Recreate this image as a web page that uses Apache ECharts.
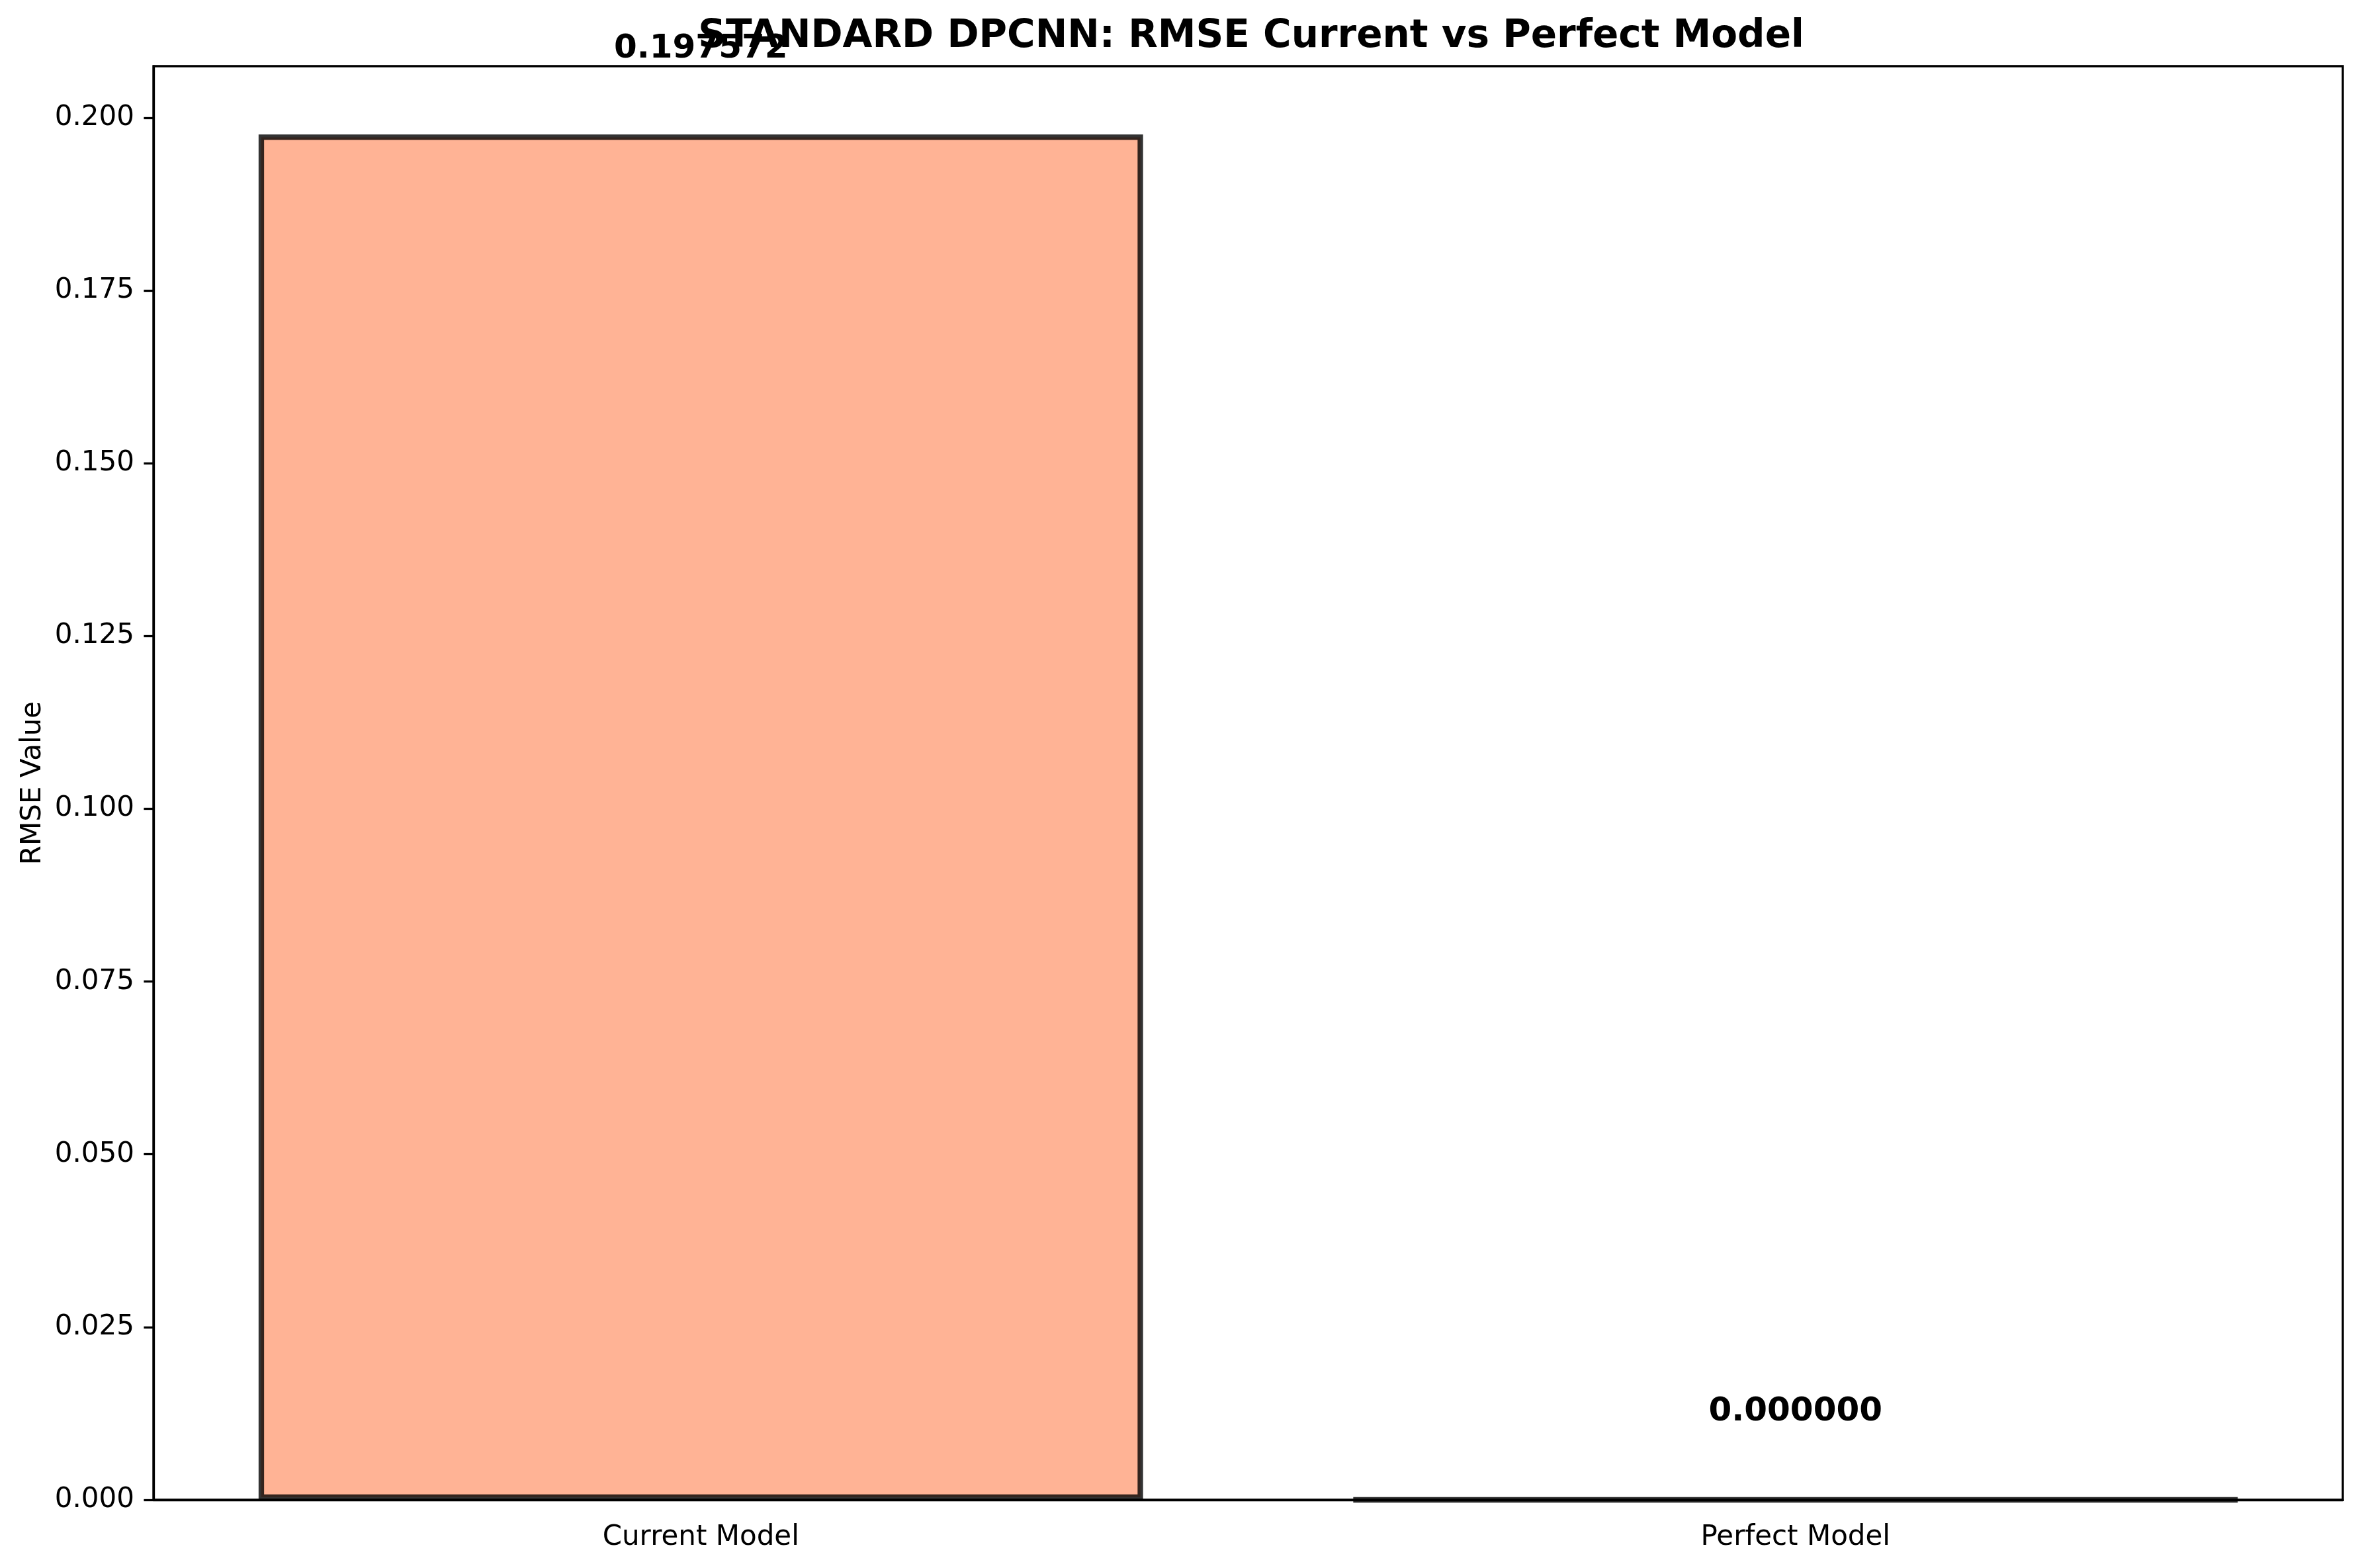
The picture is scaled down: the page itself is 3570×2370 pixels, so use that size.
<!DOCTYPE html>
<html>
<head>
<meta charset="utf-8">
<title>STANDARD DPCNN: RMSE Current vs Perfect Model</title>
<script src="https://cdn.jsdelivr.net/npm/echarts@6/dist/echarts.min.js"></script>
<style>
    html, body { margin: 0; padding: 0; background: #fff; }
    #main { width: 3570px; height: 2370px; }
</style>
</head>
<body>
<div id="main"></div>
<script>
// data
var categories = ['Current Model', 'Perfect Model'];
var rmseValues = [0.197572, 0.000000];
var yTicks = [0, 0.025, 0.05, 0.075, 0.1, 0.125, 0.15, 0.175, 0.2];
var yMax = 0.20746;

var font = 'DejaVu Sans';
var myChart = echarts.init(document.getElementById('main'));

var option = {
    backgroundColor: '#fff',
    animation: false,
    title: {
        text: 'STANDARD DPCNN: RMSE Current vs Perfect Model',
        left: 1886,
        top: 22,
        textAlign: 'center',
        textStyle: { fontFamily: font, fontSize: 58, fontWeight: 'bold', color: '#000' }
    },
    grid: {
        left: 232, right: 29, top: 100, bottom: 103,
        show: true, borderColor: '#000', borderWidth: 3.3, backgroundColor: 'transparent'
    },
    xAxis: {
        type: 'category',
        data: categories,
        axisLine: { lineStyle: { color: '#000', width: 3.3 } },
        axisTick: { alignWithLabel: true, length: 14.6, lineStyle: { color: '#000', width: 3.3 } },
        axisLabel: { margin: 36, fontFamily: font, fontSize: 42, color: '#000' }
    },
    yAxis: {
        type: 'value',
        min: 0,
        max: yMax,
        name: 'RMSE Value',
        nameLocation: 'middle',
        nameGap: 161,
        nameTextStyle: { fontFamily: font, fontSize: 42, color: '#000' },
        splitLine: { show: false },
        axisLine: { show: true, lineStyle: { color: '#000', width: 3.3 } },
        axisTick: { show: true, customValues: yTicks, length: 14.6, lineStyle: { color: '#000', width: 3.3 } },
        axisLabel: {
            customValues: yTicks,
            margin: 29,
            fontFamily: font, fontSize: 42, color: '#000',
            formatter: function (v) { return v.toFixed(3); }
        }
    },
    series: [{
        type: 'bar',
        data: rmseValues,
        barWidth: '80.8%',
        itemStyle: {
            color: 'rgba(255,160,122,0.8)',
            borderColor: 'rgba(0,0,0,0.8)',
            borderWidth: 8.3
        },
        label: {
            show: true,
            position: 'top',
            distance: 104,
            fontFamily: font, fontSize: 50, fontWeight: 'bold', color: '#000',
            formatter: function (p) { return p.value.toFixed(6); }
        }
    }]
};
myChart.setOption(option);
</script>
</body>
</html>
